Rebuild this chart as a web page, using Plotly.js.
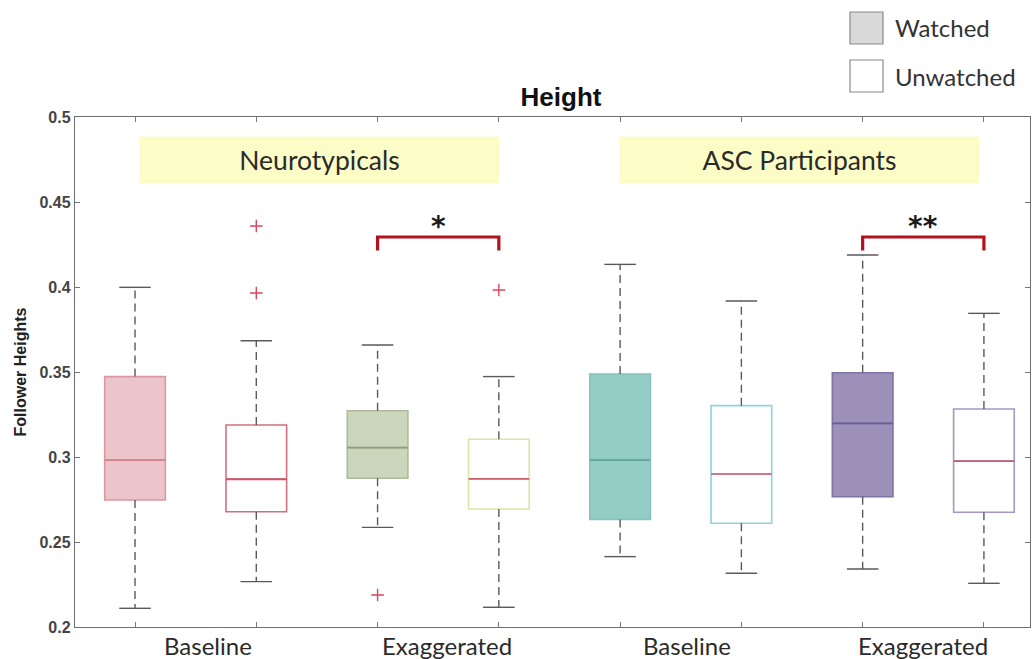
<!DOCTYPE html>
<html>
<head>
<meta charset="utf-8">
<script src="https://cdn.plot.ly/plotly-3.0.1.min.js"></script>
<style>
  html, body { margin: 0; padding: 0; background: #ffffff; }
  #chart { width: 1035px; height: 659px; }
</style>
</head>
<body>
<div id="chart"></div>
<script>
// ---- Data ----
const positions = [1, 2, 3, 4, 5, 6, 7, 8];
const boxNames = ['NT Baseline Watched', 'NT Baseline Unwatched', 'NT Exaggerated Watched', 'NT Exaggerated Unwatched',
                  'ASC Baseline Watched', 'ASC Baseline Unwatched', 'ASC Exaggerated Watched', 'ASC Exaggerated Unwatched'];
const q1Values       = [0.2747, 0.2678, 0.2875, 0.2694, 0.2633, 0.2610, 0.2766, 0.2675];
const medianValues   = [0.2982, 0.2869, 0.3055, 0.2871, 0.2982, 0.2900, 0.3198, 0.2976];
const q3Values       = [0.3473, 0.3188, 0.3272, 0.3104, 0.3488, 0.3302, 0.3496, 0.3282];
const lowerWhiskers  = [0.2110, 0.2267, 0.2586, 0.2116, 0.2414, 0.2316, 0.2341, 0.2257];
const upperWhiskers  = [0.3998, 0.3684, 0.3659, 0.3473, 0.4133, 0.3918, 0.4188, 0.3845];
const outlierValues  = [[], [0.4359, 0.3965], [0.2188], [0.3982], [], [], [], []];

const categoryLabels = ['Baseline', 'Exaggerated', 'Baseline', 'Exaggerated'];
const categoryLabelPos = [1.6, 3.57, 5.55, 7.5];
const groupLabels = ['Neurotypicals', 'ASC Participants'];
const groupLabelPos = [2.52, 6.48];
const yTickVals = [0.2, 0.25, 0.3, 0.35, 0.4, 0.45, 0.5];
const yTickText = ['0.2', '0.25', '0.3', '0.35', '0.4', '0.45', '0.5'];
const sigPairs = [[3, 4], [7, 8]];
const sigLabels = ['*', '**'];
const sigTop = 0.4294;
const sigFoot = 0.4215;
const legendLabels = ['Watched', 'Unwatched'];

// ---- Styles ----
const fillColors   = ['#ecc5ca', 'rgba(255,255,255,0)', '#ccd6bd', 'rgba(255,255,255,0)', '#93cdc6', 'rgba(255,255,255,0)', '#9d91ba', 'rgba(255,255,255,0)'];
const borderColors = ['#dc97a0', '#d0707e', '#aebb98', '#dfe5a6', '#86c2bb', '#8cd5d9', '#7f73a3', '#a696c6'];
const medianColors = ['#cf8391', '#cc5466', '#8f9e7f', '#cf5c6c', '#64a49d', '#c9798a', '#6d5f95', '#c9606f'];
const boxWidth = 0.5;
const capHalf = 0.13;
const whiskerColor = '#5a5a5a';

const traces = [];
positions.forEach((p, i) => {
  traces.push({
    type: 'box', name: boxNames[i], x: [p],
    q1: [q1Values[i]], median: [medianValues[i]], q3: [q3Values[i]],
    lowerfence: [q1Values[i]], upperfence: [q3Values[i]],
    width: boxWidth, whiskerwidth: 0,
    fillcolor: fillColors[i],
    line: { color: borderColors[i], width: 1.6 },
    hoverinfo: 'skip', showlegend: false
  });
});

// dashed whiskers
const wx = [], wy = [];
positions.forEach((p, i) => {
  wx.push(p, p, null, p, p, null);
  wy.push(q3Values[i], upperWhiskers[i], null, q1Values[i], lowerWhiskers[i], null);
});
traces.push({ type: 'scatter', mode: 'lines', x: wx, y: wy,
  line: { color: whiskerColor, width: 1.4, dash: '8px,5px' }, hoverinfo: 'skip', showlegend: false });

// caps
const cx = [], cy = [];
positions.forEach((p, i) => {
  cx.push(p - capHalf, p + capHalf, null, p - capHalf, p + capHalf, null);
  cy.push(upperWhiskers[i], upperWhiskers[i], null, lowerWhiskers[i], lowerWhiskers[i], null);
});
traces.push({ type: 'scatter', mode: 'lines', x: cx, y: cy,
  line: { color: whiskerColor, width: 1.4 }, hoverinfo: 'skip', showlegend: false });

// medians
positions.forEach((p, i) => {
  traces.push({ type: 'scatter', mode: 'lines',
    x: [p - boxWidth / 2, p + boxWidth / 2], y: [medianValues[i], medianValues[i]],
    line: { color: medianColors[i], width: 1.8 }, hoverinfo: 'skip', showlegend: false });
});

// outliers
const ox = [], oy = [];
positions.forEach((p, i) => { outlierValues[i].forEach(v => { ox.push(p); oy.push(v); }); });
traces.push({ type: 'scatter', mode: 'markers', x: ox, y: oy,
  marker: { symbol: 'cross-thin-open', size: 9, color: '#d8485c', line: { color: '#d8485c', width: 1.4 } },
  hoverinfo: 'skip', showlegend: false });

// ---- Shapes & annotations ----
const shapes = [];
const annotations = [];

sigPairs.forEach((pair, k) => {
  shapes.push({ type: 'path', xref: 'x', yref: 'y',
    path: `M ${pair[0]},${sigFoot} L ${pair[0]},${sigTop} L ${pair[1]},${sigTop} L ${pair[1]},${sigFoot}`,
    line: { color: '#b3121c', width: 3.2 } });
  annotations.push({ xref: 'x', yref: 'y', x: (pair[0] + pair[1]) / 2, y: sigTop,
    yanchor: 'bottom', yshift: -8, text: sigLabels[k], showarrow: false,
    font: { family: 'DejaVu Sans', size: 28, color: '#1a1a1a', weight: 'bold' } });
});

groupLabels.forEach((g, k) => {
  annotations.push({ xref: 'x', yref: 'y', x: groupLabelPos[k], y: 0.4747,
    text: g, showarrow: false, bgcolor: '#fcfcc6', width: 357, height: 44,
    font: { family: 'Lato', size: 26.5, color: '#2a2a2a' } });
});

categoryLabels.forEach((c, k) => {
  annotations.push({ xref: 'x', yref: 'paper', x: categoryLabelPos[k], y: 0,
    yanchor: 'top', yshift: -2, text: c, showarrow: false,
    font: { family: 'Lato', size: 24, color: '#2a2a2a' } });
});

// legend (manual)
const legendFill = ['#d9d9d9', '#ffffff'];
const legendTop = [12, 60];
legendLabels.forEach((l, k) => {
  shapes.push({ type: 'rect', xref: 'paper', yref: 'paper',
    x0: (850 - 75) / 955, x1: (883 - 75) / 955,
    y0: (659 - 32 - (legendTop[k] + 32)) / 510, y1: (659 - 32 - legendTop[k]) / 510,
    fillcolor: legendFill[k], line: { color: '#8a8a8a', width: 1.2 } });
  annotations.push({ xref: 'paper', yref: 'paper', x: (893 - 75) / 955,
    y: (659 - 32 - (legendTop[k] + 16)) / 510, xanchor: 'left', yanchor: 'middle',
    text: l, showarrow: false, font: { family: 'Lato', size: 24, color: '#333' } });
});

const layout = {
  width: 1035, height: 659,
  margin: { l: 75, r: 5, t: 117, b: 32 },
  paper_bgcolor: '#ffffff', plot_bgcolor: '#ffffff',
  showlegend: false,
  title: { text: 'Height', x: 561 / 1035, xanchor: 'center', xref: 'container',
    y: 1 - 97 / 659, yanchor: 'middle', yref: 'container',
    font: { family: 'Arial, Liberation Sans', size: 26, color: '#111', weight: 'bold' } },
  xaxis: { range: [0.505, 8.38], tickvals: positions, showticklabels: false,
    ticks: 'inside', ticklen: 5, tickcolor: '#777', showgrid: false, zeroline: false,
    showline: true, linecolor: '#6f6f6f', linewidth: 1.2, mirror: 'ticks' },
  yaxis: { range: [0.2, 0.5], tickvals: yTickVals, ticktext: yTickText,
    ticks: 'inside', ticklen: 5, tickcolor: '#777', showgrid: false, zeroline: false,
    showline: true, linecolor: '#6f6f6f', linewidth: 1.2, mirror: 'ticks',
    tickfont: { family: 'Arial, Liberation Sans', size: 16, color: '#444', weight: 'bold' },
    title: { text: 'Follower Heights', standoff: 8,
      font: { family: 'Arial, Liberation Sans', size: 16, color: '#222', weight: 'bold' } } },
  shapes: shapes,
  annotations: annotations
};

Plotly.newPlot('chart', traces, layout, { displayModeBar: false, staticPlot: true });
</script>
</body>
</html>
